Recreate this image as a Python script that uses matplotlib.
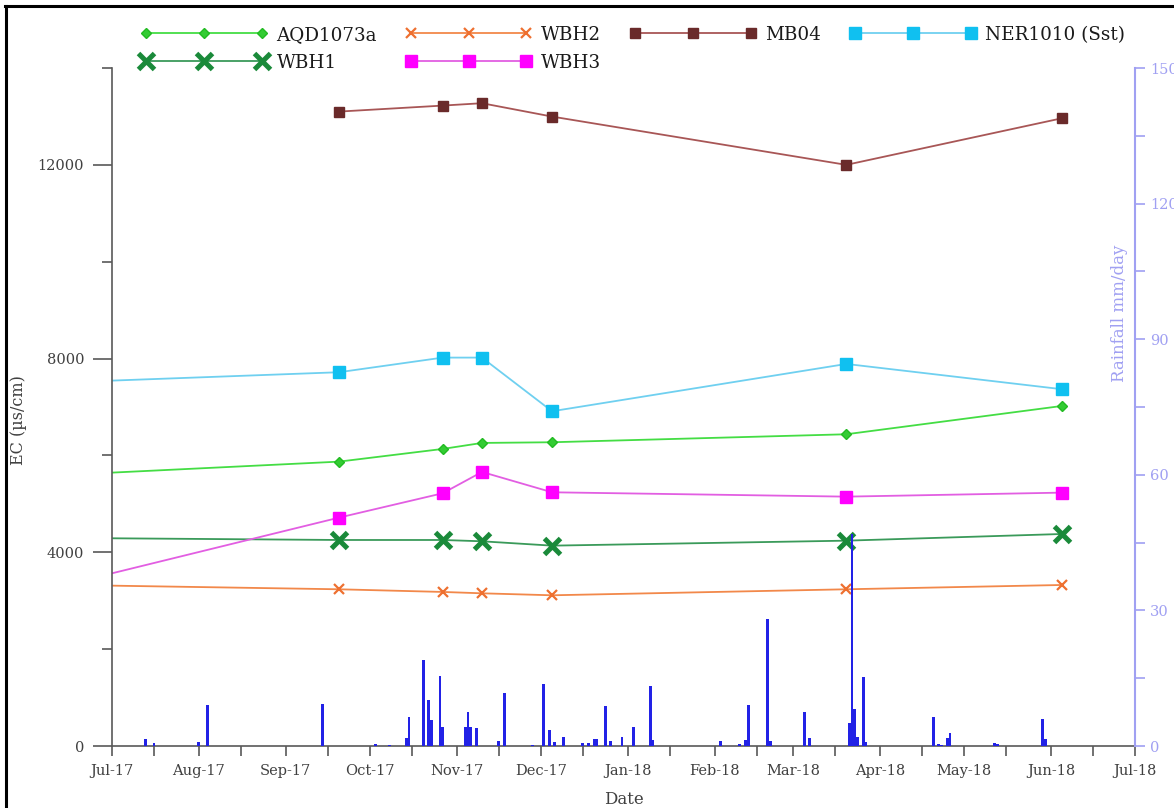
import numpy as np
import pandas as pd
import matplotlib
matplotlib.use("Agg")
import matplotlib.pyplot as plt
import matplotlib.dates as mdates
from matplotlib.ticker import MultipleLocator, FixedLocator
from matplotlib.lines import Line2D

plt.rcParams['font.family'] = ['DejaVu Serif']

# ---- EC sampling (first vertex = value at start of the record window) ----
sample_dates = pd.to_datetime(["2017-07-01", "2017-09-20", "2017-10-27", "2017-11-10",
                               "2017-12-05", "2018-03-20", "2018-06-05"])
aqd1073a = [5645, 5872, 6134, 6258, 6272, 6437, 7022]
wbh2 = [3311, 3236, 3181, 3153, 3112, 3236, 3325]
ner1010 = [7545, 7718, 8020, 8020, 6912, 7889, 7367]
wbh1 = [4289, 4254, 4254, 4227, 4137, 4240, 4378]
wbh3 = [3566, 4716, 5219, 5659, 5239, 5149, 5232]

mb04_dates = pd.to_datetime(["2017-09-20", "2017-10-27", "2017-11-10", "2017-12-05",
                             "2018-03-20", "2018-06-05"])
mb04 = [13100, 13224, 13273, 12997, 12000, 12963]

# ---- daily rainfall (mm/day) ----
rain_dates = pd.to_datetime([
    "2017-07-13", "2017-07-16", "2017-08-01", "2017-08-04", "2017-09-14",
    "2017-10-03", "2017-10-08", "2017-10-14", "2017-10-15", "2017-10-20",
    "2017-10-22", "2017-10-23", "2017-10-26", "2017-10-27", "2017-11-04",
    "2017-11-05", "2017-11-06", "2017-11-08", "2017-11-16", "2017-11-18",
    "2017-11-28", "2017-12-02", "2017-12-04", "2017-12-06", "2017-12-09",
    "2017-12-16", "2017-12-18", "2017-12-20", "2017-12-21", "2017-12-24",
    "2017-12-26", "2017-12-30", "2018-01-03", "2018-01-09", "2018-01-10",
    "2018-02-03", "2018-02-10", "2018-02-12", "2018-02-13", "2018-02-20",
    "2018-02-21", "2018-03-05", "2018-03-07", "2018-03-21", "2018-03-22",
    "2018-03-23", "2018-03-24", "2018-03-26", "2018-03-27", "2018-04-20",
    "2018-04-22", "2018-04-23", "2018-04-25", "2018-04-26", "2018-05-12",
    "2018-05-13", "2018-05-29", "2018-05-30"])
rain_mm = [
    1.6, 0.7, 0.8, 9.0, 9.4,
    0.5, 0.3, 1.8, 6.5, 19.1,
    10.2, 5.7, 15.4, 4.3, 4.3,
    7.5, 4.3, 4.0, 1.1, 11.8,
    0.2, 13.7, 3.6, 0.8, 2.0,
    0.6, 0.7, 1.6, 1.6, 8.9,
    1.2, 2.1, 4.1, 13.2, 1.3,
    1.0, 0.4, 1.4, 9.1, 28.0,
    1.0, 7.5, 1.7, 5.0, 47.0,
    8.1, 2.1, 15.2, 0.8, 6.4,
    0.5, 0.2, 1.8, 2.9, 0.7,
    0.5, 6.0, 1.5]

W, H = 1174, 808
fig = plt.figure(figsize=(W / 100, H / 100), dpi=100)
ax = fig.add_axes([112 / W, 1 - 746 / H, (1135 - 112) / W, (746 - 68) / H])
ax2 = ax.twinx()

axis_grey = '#595959'
text_grey = '#404040'
rain_axis = '#a0a0f2'

series = [
    # label, dates, values, line colour, marker, marker size, marker face, marker edge, mew
    ("AQD1073a", sample_dates, aqd1073a, '#44dd44', 'D', 5.5, '#33cc33', '#22bb22', 1.0),
    ("WBH1", sample_dates, wbh1, '#3a9a5a', 'x', 11, '#1a8a3a', '#1a8a3a', 3.6),
    ("WBH2", sample_dates, wbh2, '#f2884a', 'x', 7, '#ee7030', '#ee7030', 1.6),
    ("WBH3", sample_dates, wbh3, '#e25ee2', 's', 8, '#ff00ff', '#ff00ff', 1.0),
    ("MB04", mb04_dates, mb04, '#a85656', 's', 7.5, '#6a2a2a', '#6a2a2a', 1.0),
    ("NER1010 (Sst)", sample_dates, ner1010, '#6fd0f0', 's', 8, '#10c0f0', '#10c0f0', 1.0),
]

handles = []
for label, d, v, lc, mk, ms, mfc, mec, mew in series:
    ax.plot(d, v, color=lc, lw=1.3, zorder=2)
    start = 0 if label == "MB04" else 1
    ax.plot(d[start:], v[start:], ls='none', marker=mk, ms=ms, mfc=mfc, mec=mec,
            mew=mew, zorder=3)
    handles.append(Line2D([], [], color=lc, lw=1.3, marker=mk, ms=ms, mfc=mfc,
                          mec=mec, mew=mew, label=label))

ax2.bar(rain_dates, rain_mm, width=1.0, color='#2222e6', edgecolor='none', zorder=4)

# ---- x axis ----
ax.set_xlim(pd.Timestamp("2017-07-01"), pd.Timestamp("2018-07-01"))
ax.xaxis.set_major_locator(mdates.MonthLocator(bymonthday=1))
ax.xaxis.set_minor_locator(mdates.MonthLocator(bymonthday=16))
ax.xaxis.set_major_formatter(mdates.DateFormatter('%b-%y'))
ax.tick_params(axis='x', which='both', direction='out', length=7, width=1.2,
               color=axis_grey, labelsize=10.5, labelcolor=text_grey, pad=6)
ax.set_xlabel("Date", fontsize=12, color=text_grey, labelpad=9)

# ---- left axis ----
ax.set_ylim(0, 14000)
ax.yaxis.set_major_locator(FixedLocator([0, 4000, 8000, 12000]))
ax.yaxis.set_minor_locator(FixedLocator([2000, 6000, 10000, 14000]))
ax.tick_params(axis='y', which='major', direction='out', length=14, width=1.2,
               color=axis_grey, labelsize=10.5, labelcolor=text_grey, pad=6)
ax.tick_params(axis='y', which='minor', direction='out', length=7, width=1.2,
               color=axis_grey)
fig.text(19 / W, 1 - 420 / H, "EC (µs/cm)", rotation=90, ha='center', va='center',
         fontsize=11.5, color=text_grey)

# ---- right axis (rainfall) ----
ax2.set_ylim(0, 150)
ax2.yaxis.set_major_locator(MultipleLocator(30))
ax2.yaxis.set_minor_locator(MultipleLocator(15))
ax2.tick_params(axis='y', which='both', direction='out', length=7, width=1.2,
                color=rain_axis, labelsize=10.5, labelcolor=rain_axis, pad=4)
fig.text(1119 / W, 1 - 313 / H, "Rainfall mm/day", rotation=90, ha='center',
         va='center', fontsize=12, color=rain_axis)

for a in (ax, ax2):
    a.spines['top'].set_visible(False)
ax.spines['right'].set_visible(False)
ax.spines['left'].set_color(axis_grey)
ax.spines['bottom'].set_color(axis_grey)
ax.spines['left'].set_linewidth(1.2)
ax.spines['bottom'].set_linewidth(1.2)
ax2.spines['left'].set_visible(False)
ax2.spines['bottom'].set_visible(False)
ax2.spines['right'].set_color(rain_axis)
ax2.spines['right'].set_linewidth(1.5)

# ---- legend ----
fig.legend(handles=handles, ncol=4, loc='upper left',
           bbox_to_anchor=(128 / W, 1 - 13 / H), frameon=False, fontsize=13.2,
           numpoints=3, handlelength=6.9, handletextpad=0.5, columnspacing=1.55,
           labelspacing=0.55, borderpad=0.2, labelcolor='#1a1a1a')

# ---- frame around the figure ----
fig.add_artist(Line2D([5 / W, 1], [1 - 6 / H, 1 - 6 / H], transform=fig.transFigure,
                      color='black', lw=2.2))
fig.add_artist(Line2D([6 / W, 6 / W], [0, 1 - 6 / H], transform=fig.transFigure,
                      color='black', lw=2.2))

fig.savefig("out.png", dpi=100)
